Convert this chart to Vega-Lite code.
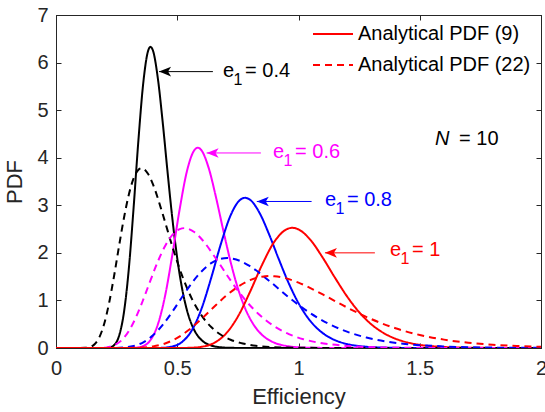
{
  "$schema": "https://vega.github.io/schema/vega-lite/v6.json",
  "width": 485,
  "height": 333,
  "autosize": "none",
  "padding": {"left": 56, "top": 15, "right": 4, "bottom": 64},
  "background": "white",
  "view": {"stroke": "#262626", "strokeWidth": 1},
  "config": {
    "font": "Liberation Sans",
    "axis": {
      "grid": false,
      "domainColor": "#262626",
      "domainWidth": 1,
      "tickColor": "#262626",
      "tickWidth": 1,
      "tickSize": -5,
      "labelColor": "#262626",
      "labelFont": "Liberation Sans",
      "labelFontSize": 20,
      "titleColor": "#262626",
      "titleFont": "Liberation Sans",
      "titleFontSize": 22,
      "titleFontWeight": "normal"
    }
  },
  "datasets": {
    "curves": [
      {"e1": "0.4", "pdf": "Analytical PDF (9)", "x": 0, "y": 0},
      {"e1": "0.4", "pdf": "Analytical PDF (9)", "x": 0.2, "y": 0},
      {"e1": "0.4", "pdf": "Analytical PDF (9)", "x": 0.22, "y": 0.01},
      {"e1": "0.4", "pdf": "Analytical PDF (9)", "x": 0.24, "y": 0.063},
      {"e1": "0.4", "pdf": "Analytical PDF (9)", "x": 0.26, "y": 0.255},
      {"e1": "0.4", "pdf": "Analytical PDF (9)", "x": 0.28, "y": 0.742},
      {"e1": "0.4", "pdf": "Analytical PDF (9)", "x": 0.3, "y": 1.65},
      {"e1": "0.4", "pdf": "Analytical PDF (9)", "x": 0.32, "y": 2.948},
      {"e1": "0.4", "pdf": "Analytical PDF (9)", "x": 0.34, "y": 4.378},
      {"e1": "0.4", "pdf": "Analytical PDF (9)", "x": 0.36, "y": 5.578},
      {"e1": "0.4", "pdf": "Analytical PDF (9)", "x": 0.38, "y": 6.25},
      {"e1": "0.4", "pdf": "Analytical PDF (9)", "x": 0.39, "y": 6.33},
      {"e1": "0.4", "pdf": "Analytical PDF (9)", "x": 0.4, "y": 6.25},
      {"e1": "0.4", "pdf": "Analytical PDF (9)", "x": 0.42, "y": 5.667},
      {"e1": "0.4", "pdf": "Analytical PDF (9)", "x": 0.44, "y": 4.746},
      {"e1": "0.4", "pdf": "Analytical PDF (9)", "x": 0.46, "y": 3.701},
      {"e1": "0.4", "pdf": "Analytical PDF (9)", "x": 0.48, "y": 2.714},
      {"e1": "0.4", "pdf": "Analytical PDF (9)", "x": 0.5, "y": 1.886},
      {"e1": "0.4", "pdf": "Analytical PDF (9)", "x": 0.52, "y": 1.25},
      {"e1": "0.4", "pdf": "Analytical PDF (9)", "x": 0.54, "y": 0.795},
      {"e1": "0.4", "pdf": "Analytical PDF (9)", "x": 0.56, "y": 0.488},
      {"e1": "0.4", "pdf": "Analytical PDF (9)", "x": 0.58, "y": 0.29},
      {"e1": "0.4", "pdf": "Analytical PDF (9)", "x": 0.6, "y": 0.168},
      {"e1": "0.4", "pdf": "Analytical PDF (9)", "x": 0.64, "y": 0.052},
      {"e1": "0.4", "pdf": "Analytical PDF (9)", "x": 0.68, "y": 0.015},
      {"e1": "0.4", "pdf": "Analytical PDF (9)", "x": 0.72, "y": 0.004},
      {"e1": "0.4", "pdf": "Analytical PDF (9)", "x": 0.8, "y": 0},
      {"e1": "0.4", "pdf": "Analytical PDF (9)", "x": 2, "y": 0},

      {"e1": "0.6", "pdf": "Analytical PDF (9)", "x": 0, "y": 0},
      {"e1": "0.6", "pdf": "Analytical PDF (9)", "x": 0.3, "y": 0},
      {"e1": "0.6", "pdf": "Analytical PDF (9)", "x": 0.33, "y": 0.007},
      {"e1": "0.6", "pdf": "Analytical PDF (9)", "x": 0.36, "y": 0.042},
      {"e1": "0.6", "pdf": "Analytical PDF (9)", "x": 0.39, "y": 0.17},
      {"e1": "0.6", "pdf": "Analytical PDF (9)", "x": 0.42, "y": 0.495},
      {"e1": "0.6", "pdf": "Analytical PDF (9)", "x": 0.45, "y": 1.1},
      {"e1": "0.6", "pdf": "Analytical PDF (9)", "x": 0.48, "y": 1.965},
      {"e1": "0.6", "pdf": "Analytical PDF (9)", "x": 0.51, "y": 2.918},
      {"e1": "0.6", "pdf": "Analytical PDF (9)", "x": 0.54, "y": 3.718},
      {"e1": "0.6", "pdf": "Analytical PDF (9)", "x": 0.57, "y": 4.155},
      {"e1": "0.6", "pdf": "Analytical PDF (9)", "x": 0.585, "y": 4.21},
      {"e1": "0.6", "pdf": "Analytical PDF (9)", "x": 0.6, "y": 4.155},
      {"e1": "0.6", "pdf": "Analytical PDF (9)", "x": 0.63, "y": 3.778},
      {"e1": "0.6", "pdf": "Analytical PDF (9)", "x": 0.66, "y": 3.163},
      {"e1": "0.6", "pdf": "Analytical PDF (9)", "x": 0.69, "y": 2.468},
      {"e1": "0.6", "pdf": "Analytical PDF (9)", "x": 0.72, "y": 1.81},
      {"e1": "0.6", "pdf": "Analytical PDF (9)", "x": 0.75, "y": 1.257},
      {"e1": "0.6", "pdf": "Analytical PDF (9)", "x": 0.78, "y": 0.833},
      {"e1": "0.6", "pdf": "Analytical PDF (9)", "x": 0.81, "y": 0.53},
      {"e1": "0.6", "pdf": "Analytical PDF (9)", "x": 0.84, "y": 0.325},
      {"e1": "0.6", "pdf": "Analytical PDF (9)", "x": 0.87, "y": 0.193},
      {"e1": "0.6", "pdf": "Analytical PDF (9)", "x": 0.9, "y": 0.112},
      {"e1": "0.6", "pdf": "Analytical PDF (9)", "x": 0.96, "y": 0.035},
      {"e1": "0.6", "pdf": "Analytical PDF (9)", "x": 1.02, "y": 0.01},
      {"e1": "0.6", "pdf": "Analytical PDF (9)", "x": 1.08, "y": 0.003},
      {"e1": "0.6", "pdf": "Analytical PDF (9)", "x": 1.2, "y": 0},
      {"e1": "0.6", "pdf": "Analytical PDF (9)", "x": 2, "y": 0},

      {"e1": "0.8", "pdf": "Analytical PDF (9)", "x": 0, "y": 0},
      {"e1": "0.8", "pdf": "Analytical PDF (9)", "x": 0.4, "y": 0},
      {"e1": "0.8", "pdf": "Analytical PDF (9)", "x": 0.44, "y": 0.005},
      {"e1": "0.8", "pdf": "Analytical PDF (9)", "x": 0.48, "y": 0.032},
      {"e1": "0.8", "pdf": "Analytical PDF (9)", "x": 0.52, "y": 0.128},
      {"e1": "0.8", "pdf": "Analytical PDF (9)", "x": 0.56, "y": 0.371},
      {"e1": "0.8", "pdf": "Analytical PDF (9)", "x": 0.6, "y": 0.825},
      {"e1": "0.8", "pdf": "Analytical PDF (9)", "x": 0.64, "y": 1.474},
      {"e1": "0.8", "pdf": "Analytical PDF (9)", "x": 0.68, "y": 2.189},
      {"e1": "0.8", "pdf": "Analytical PDF (9)", "x": 0.72, "y": 2.788},
      {"e1": "0.8", "pdf": "Analytical PDF (9)", "x": 0.76, "y": 3.117},
      {"e1": "0.8", "pdf": "Analytical PDF (9)", "x": 0.78, "y": 3.157},
      {"e1": "0.8", "pdf": "Analytical PDF (9)", "x": 0.8, "y": 3.117},
      {"e1": "0.8", "pdf": "Analytical PDF (9)", "x": 0.84, "y": 2.834},
      {"e1": "0.8", "pdf": "Analytical PDF (9)", "x": 0.88, "y": 2.373},
      {"e1": "0.8", "pdf": "Analytical PDF (9)", "x": 0.92, "y": 1.851},
      {"e1": "0.8", "pdf": "Analytical PDF (9)", "x": 0.96, "y": 1.358},
      {"e1": "0.8", "pdf": "Analytical PDF (9)", "x": 1.0, "y": 0.943},
      {"e1": "0.8", "pdf": "Analytical PDF (9)", "x": 1.04, "y": 0.625},
      {"e1": "0.8", "pdf": "Analytical PDF (9)", "x": 1.08, "y": 0.398},
      {"e1": "0.8", "pdf": "Analytical PDF (9)", "x": 1.12, "y": 0.244},
      {"e1": "0.8", "pdf": "Analytical PDF (9)", "x": 1.16, "y": 0.145},
      {"e1": "0.8", "pdf": "Analytical PDF (9)", "x": 1.2, "y": 0.084},
      {"e1": "0.8", "pdf": "Analytical PDF (9)", "x": 1.28, "y": 0.026},
      {"e1": "0.8", "pdf": "Analytical PDF (9)", "x": 1.36, "y": 0.008},
      {"e1": "0.8", "pdf": "Analytical PDF (9)", "x": 1.44, "y": 0.002},
      {"e1": "0.8", "pdf": "Analytical PDF (9)", "x": 1.6, "y": 0},
      {"e1": "0.8", "pdf": "Analytical PDF (9)", "x": 2, "y": 0},

      {"e1": "1", "pdf": "Analytical PDF (9)", "x": 0, "y": 0},
      {"e1": "1", "pdf": "Analytical PDF (9)", "x": 0.5, "y": 0},
      {"e1": "1", "pdf": "Analytical PDF (9)", "x": 0.55, "y": 0.004},
      {"e1": "1", "pdf": "Analytical PDF (9)", "x": 0.6, "y": 0.025},
      {"e1": "1", "pdf": "Analytical PDF (9)", "x": 0.65, "y": 0.102},
      {"e1": "1", "pdf": "Analytical PDF (9)", "x": 0.7, "y": 0.297},
      {"e1": "1", "pdf": "Analytical PDF (9)", "x": 0.75, "y": 0.66},
      {"e1": "1", "pdf": "Analytical PDF (9)", "x": 0.8, "y": 1.179},
      {"e1": "1", "pdf": "Analytical PDF (9)", "x": 0.85, "y": 1.751},
      {"e1": "1", "pdf": "Analytical PDF (9)", "x": 0.9, "y": 2.231},
      {"e1": "1", "pdf": "Analytical PDF (9)", "x": 0.95, "y": 2.493},
      {"e1": "1", "pdf": "Analytical PDF (9)", "x": 0.975, "y": 2.526},
      {"e1": "1", "pdf": "Analytical PDF (9)", "x": 1.0, "y": 2.493},
      {"e1": "1", "pdf": "Analytical PDF (9)", "x": 1.05, "y": 2.267},
      {"e1": "1", "pdf": "Analytical PDF (9)", "x": 1.1, "y": 1.898},
      {"e1": "1", "pdf": "Analytical PDF (9)", "x": 1.15, "y": 1.481},
      {"e1": "1", "pdf": "Analytical PDF (9)", "x": 1.2, "y": 1.086},
      {"e1": "1", "pdf": "Analytical PDF (9)", "x": 1.25, "y": 0.754},
      {"e1": "1", "pdf": "Analytical PDF (9)", "x": 1.3, "y": 0.5},
      {"e1": "1", "pdf": "Analytical PDF (9)", "x": 1.35, "y": 0.318},
      {"e1": "1", "pdf": "Analytical PDF (9)", "x": 1.4, "y": 0.195},
      {"e1": "1", "pdf": "Analytical PDF (9)", "x": 1.45, "y": 0.116},
      {"e1": "1", "pdf": "Analytical PDF (9)", "x": 1.5, "y": 0.067},
      {"e1": "1", "pdf": "Analytical PDF (9)", "x": 1.6, "y": 0.021},
      {"e1": "1", "pdf": "Analytical PDF (9)", "x": 1.7, "y": 0.006},
      {"e1": "1", "pdf": "Analytical PDF (9)", "x": 1.8, "y": 0.002},
      {"e1": "1", "pdf": "Analytical PDF (9)", "x": 2, "y": 0},

      {"e1": "0.4", "pdf": "Analytical PDF (22)", "x": 0, "y": 0},
      {"e1": "0.4", "pdf": "Analytical PDF (22)", "x": 0.12, "y": 0.003},
      {"e1": "0.4", "pdf": "Analytical PDF (22)", "x": 0.14, "y": 0.021},
      {"e1": "0.4", "pdf": "Analytical PDF (22)", "x": 0.16, "y": 0.085},
      {"e1": "0.4", "pdf": "Analytical PDF (22)", "x": 0.18, "y": 0.24},
      {"e1": "0.4", "pdf": "Analytical PDF (22)", "x": 0.2, "y": 0.533},
      {"e1": "0.4", "pdf": "Analytical PDF (22)", "x": 0.22, "y": 0.973},
      {"e1": "0.4", "pdf": "Analytical PDF (22)", "x": 0.24, "y": 1.53},
      {"e1": "0.4", "pdf": "Analytical PDF (22)", "x": 0.26, "y": 2.143},
      {"e1": "0.4", "pdf": "Analytical PDF (22)", "x": 0.28, "y": 2.728},
      {"e1": "0.4", "pdf": "Analytical PDF (22)", "x": 0.3, "y": 3.218},
      {"e1": "0.4", "pdf": "Analytical PDF (22)", "x": 0.32, "y": 3.565},
      {"e1": "0.4", "pdf": "Analytical PDF (22)", "x": 0.34, "y": 3.748},
      {"e1": "0.4", "pdf": "Analytical PDF (22)", "x": 0.353, "y": 3.78},
      {"e1": "0.4", "pdf": "Analytical PDF (22)", "x": 0.36, "y": 3.77},
      {"e1": "0.4", "pdf": "Analytical PDF (22)", "x": 0.38, "y": 3.658},
      {"e1": "0.4", "pdf": "Analytical PDF (22)", "x": 0.4, "y": 3.438},
      {"e1": "0.4", "pdf": "Analytical PDF (22)", "x": 0.44, "y": 2.815},
      {"e1": "0.4", "pdf": "Analytical PDF (22)", "x": 0.48, "y": 2.13},
      {"e1": "0.4", "pdf": "Analytical PDF (22)", "x": 0.52, "y": 1.52},
      {"e1": "0.4", "pdf": "Analytical PDF (22)", "x": 0.56, "y": 1.038},
      {"e1": "0.4", "pdf": "Analytical PDF (22)", "x": 0.6, "y": 0.685},
      {"e1": "0.4", "pdf": "Analytical PDF (22)", "x": 0.64, "y": 0.44},
      {"e1": "0.4", "pdf": "Analytical PDF (22)", "x": 0.68, "y": 0.278},
      {"e1": "0.4", "pdf": "Analytical PDF (22)", "x": 0.72, "y": 0.173},
      {"e1": "0.4", "pdf": "Analytical PDF (22)", "x": 0.76, "y": 0.108},
      {"e1": "0.4", "pdf": "Analytical PDF (22)", "x": 0.8, "y": 0.065},
      {"e1": "0.4", "pdf": "Analytical PDF (22)", "x": 0.9, "y": 0.018},
      {"e1": "0.4", "pdf": "Analytical PDF (22)", "x": 1.0, "y": 0.005},
      {"e1": "0.4", "pdf": "Analytical PDF (22)", "x": 1.2, "y": 0},
      {"e1": "0.4", "pdf": "Analytical PDF (22)", "x": 2, "y": 0},

      {"e1": "0.6", "pdf": "Analytical PDF (22)", "x": 0, "y": 0},
      {"e1": "0.6", "pdf": "Analytical PDF (22)", "x": 0.18, "y": 0.002},
      {"e1": "0.6", "pdf": "Analytical PDF (22)", "x": 0.21, "y": 0.013},
      {"e1": "0.6", "pdf": "Analytical PDF (22)", "x": 0.24, "y": 0.057},
      {"e1": "0.6", "pdf": "Analytical PDF (22)", "x": 0.27, "y": 0.16},
      {"e1": "0.6", "pdf": "Analytical PDF (22)", "x": 0.3, "y": 0.355},
      {"e1": "0.6", "pdf": "Analytical PDF (22)", "x": 0.33, "y": 0.648},
      {"e1": "0.6", "pdf": "Analytical PDF (22)", "x": 0.36, "y": 1.02},
      {"e1": "0.6", "pdf": "Analytical PDF (22)", "x": 0.39, "y": 1.428},
      {"e1": "0.6", "pdf": "Analytical PDF (22)", "x": 0.42, "y": 1.818},
      {"e1": "0.6", "pdf": "Analytical PDF (22)", "x": 0.45, "y": 2.145},
      {"e1": "0.6", "pdf": "Analytical PDF (22)", "x": 0.48, "y": 2.377},
      {"e1": "0.6", "pdf": "Analytical PDF (22)", "x": 0.51, "y": 2.498},
      {"e1": "0.6", "pdf": "Analytical PDF (22)", "x": 0.53, "y": 2.52},
      {"e1": "0.6", "pdf": "Analytical PDF (22)", "x": 0.54, "y": 2.513},
      {"e1": "0.6", "pdf": "Analytical PDF (22)", "x": 0.57, "y": 2.438},
      {"e1": "0.6", "pdf": "Analytical PDF (22)", "x": 0.6, "y": 2.292},
      {"e1": "0.6", "pdf": "Analytical PDF (22)", "x": 0.66, "y": 1.877},
      {"e1": "0.6", "pdf": "Analytical PDF (22)", "x": 0.72, "y": 1.42},
      {"e1": "0.6", "pdf": "Analytical PDF (22)", "x": 0.78, "y": 1.013},
      {"e1": "0.6", "pdf": "Analytical PDF (22)", "x": 0.84, "y": 0.692},
      {"e1": "0.6", "pdf": "Analytical PDF (22)", "x": 0.9, "y": 0.457},
      {"e1": "0.6", "pdf": "Analytical PDF (22)", "x": 0.96, "y": 0.293},
      {"e1": "0.6", "pdf": "Analytical PDF (22)", "x": 1.02, "y": 0.185},
      {"e1": "0.6", "pdf": "Analytical PDF (22)", "x": 1.08, "y": 0.115},
      {"e1": "0.6", "pdf": "Analytical PDF (22)", "x": 1.14, "y": 0.072},
      {"e1": "0.6", "pdf": "Analytical PDF (22)", "x": 1.2, "y": 0.043},
      {"e1": "0.6", "pdf": "Analytical PDF (22)", "x": 1.35, "y": 0.012},
      {"e1": "0.6", "pdf": "Analytical PDF (22)", "x": 1.5, "y": 0.003},
      {"e1": "0.6", "pdf": "Analytical PDF (22)", "x": 1.8, "y": 0},
      {"e1": "0.6", "pdf": "Analytical PDF (22)", "x": 2, "y": 0},

      {"e1": "0.8", "pdf": "Analytical PDF (22)", "x": 0, "y": 0},
      {"e1": "0.8", "pdf": "Analytical PDF (22)", "x": 0.24, "y": 0.001},
      {"e1": "0.8", "pdf": "Analytical PDF (22)", "x": 0.28, "y": 0.01},
      {"e1": "0.8", "pdf": "Analytical PDF (22)", "x": 0.32, "y": 0.043},
      {"e1": "0.8", "pdf": "Analytical PDF (22)", "x": 0.36, "y": 0.12},
      {"e1": "0.8", "pdf": "Analytical PDF (22)", "x": 0.4, "y": 0.266},
      {"e1": "0.8", "pdf": "Analytical PDF (22)", "x": 0.44, "y": 0.486},
      {"e1": "0.8", "pdf": "Analytical PDF (22)", "x": 0.48, "y": 0.765},
      {"e1": "0.8", "pdf": "Analytical PDF (22)", "x": 0.52, "y": 1.071},
      {"e1": "0.8", "pdf": "Analytical PDF (22)", "x": 0.56, "y": 1.364},
      {"e1": "0.8", "pdf": "Analytical PDF (22)", "x": 0.6, "y": 1.609},
      {"e1": "0.8", "pdf": "Analytical PDF (22)", "x": 0.64, "y": 1.783},
      {"e1": "0.8", "pdf": "Analytical PDF (22)", "x": 0.68, "y": 1.874},
      {"e1": "0.8", "pdf": "Analytical PDF (22)", "x": 0.706, "y": 1.89},
      {"e1": "0.8", "pdf": "Analytical PDF (22)", "x": 0.72, "y": 1.885},
      {"e1": "0.8", "pdf": "Analytical PDF (22)", "x": 0.76, "y": 1.829},
      {"e1": "0.8", "pdf": "Analytical PDF (22)", "x": 0.8, "y": 1.719},
      {"e1": "0.8", "pdf": "Analytical PDF (22)", "x": 0.88, "y": 1.408},
      {"e1": "0.8", "pdf": "Analytical PDF (22)", "x": 0.96, "y": 1.065},
      {"e1": "0.8", "pdf": "Analytical PDF (22)", "x": 1.04, "y": 0.76},
      {"e1": "0.8", "pdf": "Analytical PDF (22)", "x": 1.12, "y": 0.519},
      {"e1": "0.8", "pdf": "Analytical PDF (22)", "x": 1.2, "y": 0.343},
      {"e1": "0.8", "pdf": "Analytical PDF (22)", "x": 1.28, "y": 0.22},
      {"e1": "0.8", "pdf": "Analytical PDF (22)", "x": 1.36, "y": 0.139},
      {"e1": "0.8", "pdf": "Analytical PDF (22)", "x": 1.44, "y": 0.086},
      {"e1": "0.8", "pdf": "Analytical PDF (22)", "x": 1.52, "y": 0.054},
      {"e1": "0.8", "pdf": "Analytical PDF (22)", "x": 1.6, "y": 0.033},
      {"e1": "0.8", "pdf": "Analytical PDF (22)", "x": 1.8, "y": 0.009},
      {"e1": "0.8", "pdf": "Analytical PDF (22)", "x": 2, "y": 0.003},

      {"e1": "1", "pdf": "Analytical PDF (22)", "x": 0, "y": 0},
      {"e1": "1", "pdf": "Analytical PDF (22)", "x": 0.3, "y": 0.001},
      {"e1": "1", "pdf": "Analytical PDF (22)", "x": 0.35, "y": 0.008},
      {"e1": "1", "pdf": "Analytical PDF (22)", "x": 0.4, "y": 0.034},
      {"e1": "1", "pdf": "Analytical PDF (22)", "x": 0.45, "y": 0.096},
      {"e1": "1", "pdf": "Analytical PDF (22)", "x": 0.5, "y": 0.213},
      {"e1": "1", "pdf": "Analytical PDF (22)", "x": 0.55, "y": 0.389},
      {"e1": "1", "pdf": "Analytical PDF (22)", "x": 0.6, "y": 0.612},
      {"e1": "1", "pdf": "Analytical PDF (22)", "x": 0.65, "y": 0.857},
      {"e1": "1", "pdf": "Analytical PDF (22)", "x": 0.7, "y": 1.091},
      {"e1": "1", "pdf": "Analytical PDF (22)", "x": 0.75, "y": 1.287},
      {"e1": "1", "pdf": "Analytical PDF (22)", "x": 0.8, "y": 1.426},
      {"e1": "1", "pdf": "Analytical PDF (22)", "x": 0.85, "y": 1.499},
      {"e1": "1", "pdf": "Analytical PDF (22)", "x": 0.8825, "y": 1.512},
      {"e1": "1", "pdf": "Analytical PDF (22)", "x": 0.9, "y": 1.508},
      {"e1": "1", "pdf": "Analytical PDF (22)", "x": 0.95, "y": 1.463},
      {"e1": "1", "pdf": "Analytical PDF (22)", "x": 1.0, "y": 1.375},
      {"e1": "1", "pdf": "Analytical PDF (22)", "x": 1.1, "y": 1.126},
      {"e1": "1", "pdf": "Analytical PDF (22)", "x": 1.2, "y": 0.852},
      {"e1": "1", "pdf": "Analytical PDF (22)", "x": 1.3, "y": 0.608},
      {"e1": "1", "pdf": "Analytical PDF (22)", "x": 1.4, "y": 0.415},
      {"e1": "1", "pdf": "Analytical PDF (22)", "x": 1.5, "y": 0.274},
      {"e1": "1", "pdf": "Analytical PDF (22)", "x": 1.6, "y": 0.176},
      {"e1": "1", "pdf": "Analytical PDF (22)", "x": 1.7, "y": 0.111},
      {"e1": "1", "pdf": "Analytical PDF (22)", "x": 1.8, "y": 0.069},
      {"e1": "1", "pdf": "Analytical PDF (22)", "x": 1.9, "y": 0.043},
      {"e1": "1", "pdf": "Analytical PDF (22)", "x": 2, "y": 0.026}
    ],
    "callouts": [
      {"e1": "0.4", "tip": 0.425, "tail": 0.647, "ay": 5.81, "tx": 0.689, "ty": 5.706, "rest": "= 0.4"},
      {"e1": "0.6", "tip": 0.621, "tail": 0.845, "ay": 4.1, "tx": 0.895, "ty": 3.99, "rest": "= 0.6"},
      {"e1": "0.8", "tip": 0.828, "tail": 1.054, "ay": 3.08, "tx": 1.109, "ty": 2.99, "rest": "= 0.8"},
      {"e1": "1", "tip": 1.109, "tail": 1.315, "ay": 2.0, "tx": 1.377, "ty": 1.94, "rest": "= 1"}
    ],
    "note": [
      {"nx": 1.563, "ny": 4.27, "name": "N", "value": "= 10"}
    ]
  },
  "layer": [
    {
      "data": {"name": "curves"},
      "mark": {"type": "line", "interpolate": "monotone", "strokeWidth": 2, "clip": true},
      "encoding": {
        "x": {
          "field": "x", "type": "quantitative",
          "scale": {"domain": [0, 2], "nice": false, "zero": false},
          "axis": {
            "orient": "bottom", "title": "Efficiency", "values": [0, 0.5, 1, 1.5, 2],
            "format": "~g", "labelFlush": false, "labelOverlap": false,
            "labelPadding": 15, "titlePadding": 8
          }
        },
        "y": {
          "field": "y", "type": "quantitative",
          "scale": {"domain": [0, 7], "nice": false},
          "axis": {
            "orient": "left", "title": "PDF", "values": [0, 1, 2, 3, 4, 5, 6, 7],
            "labelPadding": 13, "titlePadding": 10, "labelFlush": false
          }
        },
        "color": {
          "field": "e1", "type": "nominal",
          "scale": {"domain": ["0.4", "0.6", "0.8", "1"], "range": ["#000000", "#ff00ff", "#0000ff", "#ff0000"]},
          "legend": null
        },
        "strokeDash": {
          "field": "pdf", "type": "nominal",
          "scale": {"domain": ["Analytical PDF (9)", "Analytical PDF (22)"], "range": [[1, 0], [7, 5]]},
          "legend": {
            "title": null, "orient": "none", "legendX": 256, "legendY": -2,
            "symbolType": "stroke", "symbolStrokeColor": "#ff0000", "symbolStrokeWidth": 2,
            "symbolSize": 1600, "labelFontSize": 20, "labelColor": "#000000", "labelLimit": 400,
            "labelFont": "Liberation Sans", "labelOffset": 4, "rowPadding": 0
          }
        }
      }
    },
    {
      "data": {"name": "callouts"},
      "mark": {"type": "rule", "strokeWidth": 1},
      "encoding": {
        "x": {
          "field": "tip", "type": "quantitative",
          "axis": {"orient": "top", "title": null, "labels": false, "domainColor": "#262626", "domainWidth": 1, "tickColor": "#262626", "tickWidth": 1, "values": [0, 0.5, 1, 1.5, 2]}
        },
        "x2": {"field": "tail"},
        "y": {
          "field": "ay", "type": "quantitative",
          "axis": {"orient": "right", "title": null, "labels": false, "domainColor": "#262626", "domainWidth": 1, "tickColor": "#262626", "tickWidth": 1, "values": [0, 1, 2, 3, 4, 5, 6, 7]}
        },
        "color": {"field": "e1", "type": "nominal", "legend": null}
      }
    },
    {
      "data": {"name": "callouts"},
      "mark": {"type": "point", "shape": "M0,0L2,-0.8L1.5,0L2,0.8Z", "filled": true, "size": 144, "opacity": 1, "strokeWidth": 0},
      "encoding": {
        "x": {"field": "tip", "type": "quantitative", "axis": null},
        "y": {"field": "ay", "type": "quantitative", "axis": null},
        "color": {"field": "e1", "type": "nominal", "legend": null}
      }
    },
    {
      "data": {"name": "callouts"},
      "mark": {"type": "text", "text": "e", "align": "left", "baseline": "alphabetic", "fontSize": 20},
      "encoding": {
        "x": {"field": "tx", "type": "quantitative", "axis": null},
        "y": {"field": "ty", "type": "quantitative", "axis": null},
        "color": {"field": "e1", "type": "nominal", "legend": null}
      }
    },
    {
      "data": {"name": "callouts"},
      "mark": {"type": "text", "text": "1", "align": "left", "baseline": "alphabetic", "fontSize": 16, "dx": 10.5, "dy": 8},
      "encoding": {
        "x": {"field": "tx", "type": "quantitative", "axis": null},
        "y": {"field": "ty", "type": "quantitative", "axis": null},
        "color": {"field": "e1", "type": "nominal", "legend": null}
      }
    },
    {
      "data": {"name": "callouts"},
      "mark": {"type": "text", "align": "left", "baseline": "alphabetic", "fontSize": 20, "dx": 22},
      "encoding": {
        "x": {"field": "tx", "type": "quantitative", "axis": null},
        "y": {"field": "ty", "type": "quantitative", "axis": null},
        "text": {"field": "rest"},
        "color": {"field": "e1", "type": "nominal", "legend": null}
      }
    },
    {
      "data": {"name": "note"},
      "mark": {"type": "text", "align": "left", "baseline": "alphabetic", "fontSize": 20, "fontStyle": "italic", "color": "#000000"},
      "encoding": {
        "x": {"field": "nx", "type": "quantitative", "axis": null},
        "y": {"field": "ny", "type": "quantitative", "axis": null},
        "text": {"field": "name"}
      }
    },
    {
      "data": {"name": "note"},
      "mark": {"type": "text", "align": "left", "baseline": "alphabetic", "fontSize": 20, "dx": 24, "color": "#000000"},
      "encoding": {
        "x": {"field": "nx", "type": "quantitative", "axis": null},
        "y": {"field": "ny", "type": "quantitative", "axis": null},
        "text": {"field": "value"}
      }
    }
  ],
  "resolve": {"axis": {"x": "independent", "y": "independent"}}
}
